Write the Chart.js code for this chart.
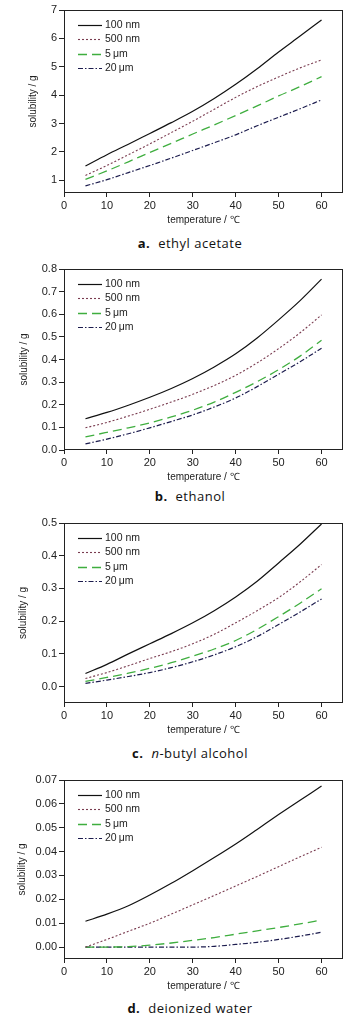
<!DOCTYPE html>
<html><head><meta charset="utf-8">
<script src="https://cdn.jsdelivr.net/npm/chart.js@4.4.1/dist/chart.umd.min.js"></script>
<style>
html,body{margin:0;padding:0;background:#fff;width:352px;height:1018px;overflow:hidden}
.panel{position:absolute;left:0;width:352px}
.cap{position:absolute;left:0;width:380px;text-align:center;font-family:'Open Sans','DejaVu Sans',sans-serif;font-size:13px;color:#111;letter-spacing:0.5px;line-height:16px;white-space:nowrap}
.cap b{font-weight:700;margin-right:4px}
</style></head><body>
<script>
// ---------- data ----------
const temps = [5,10,15,20,25,30,35,40,45,50,55,60];
const sizeLabels = ['100 nm','500 nm','5\u2009\u03bcm','20\u2009\u03bcm'];
const xTicks = [0,10,20,30,40,50,60];

// a. ethyl acetate
const eaNm100 = [1.50,1.90,2.27,2.65,3.03,3.43,3.88,4.38,4.93,5.52,6.08,6.65];
const eaNm500 = [1.17,1.52,1.90,2.28,2.68,3.08,3.50,3.92,4.30,4.64,4.96,5.24];
const eaUm5   = [1.03,1.33,1.65,1.98,2.30,2.63,2.95,3.28,3.62,3.97,4.30,4.65];
const eaUm20  = [0.80,1.02,1.27,1.52,1.78,2.05,2.32,2.60,2.92,3.22,3.52,3.83];
const eaYTicks = [1,2,3,4,5,6,7];
const eaYLabels = ['1','2','3','4','5','6','7'];

// b. ethanol
const etNm100 = [0.138,0.166,0.198,0.233,0.272,0.316,0.367,0.425,0.495,0.575,0.660,0.755];
const etNm500 = [0.098,0.122,0.150,0.180,0.212,0.246,0.285,0.330,0.385,0.448,0.518,0.597];
const etUm5   = [0.058,0.078,0.098,0.120,0.146,0.176,0.212,0.255,0.302,0.355,0.415,0.485];
const etUm20  = [0.027,0.048,0.072,0.098,0.126,0.155,0.190,0.230,0.280,0.335,0.390,0.450];
const etYTicks = [0,0.1,0.2,0.3,0.4,0.5,0.6,0.7,0.8];
const etYLabels = ['0.0','0.1','0.2','0.3','0.4','0.5','0.6','0.7','0.8'];

// c. n-butyl alcohol
const buNm100 = [0.040,0.068,0.100,0.131,0.162,0.195,0.232,0.274,0.322,0.378,0.435,0.497];
const buNm500 = [0.025,0.043,0.064,0.086,0.107,0.131,0.160,0.195,0.232,0.272,0.320,0.373];
const buUm5   = [0.016,0.028,0.041,0.056,0.073,0.093,0.115,0.141,0.175,0.214,0.255,0.299];
const buUm20  = [0.010,0.020,0.031,0.043,0.058,0.076,0.097,0.122,0.153,0.190,0.228,0.268];
const buYTicks = [0,0.1,0.2,0.3,0.4,0.5];
const buYLabels = ['0.0','0.1','0.2','0.3','0.4','0.5'];

// d. deionized water
const wtNm100 = [0.0108,0.0138,0.0173,0.0218,0.0267,0.0320,0.0375,0.0432,0.0493,0.0555,0.0615,0.0675];
const wtNm500 = [0.0000,0.0032,0.0066,0.0100,0.0138,0.0177,0.0216,0.0256,0.0296,0.0337,0.0378,0.0418];
const wtUm5   = [0.0000,0.0000,0.0002,0.0008,0.0017,0.0028,0.0040,0.0054,0.0068,0.0082,0.0097,0.0113];
const wtUm20  = [0.0000,0.0000,0.0000,0.0000,0.0000,0.0000,0.0003,0.0011,0.0020,0.0032,0.0046,0.0062];
const wtYTicks = [0,0.01,0.02,0.03,0.04,0.05,0.06,0.07];
const wtYLabels = ['0.00','0.01','0.02','0.03','0.04','0.05','0.06','0.07'];

// ---------- styling / layout ----------
const F = "'Liberation Sans','Arial',sans-serif";
const styles = [
  {color:'#111111', dash:[], width:1.2},
  {color:'#7a3c50', dash:[2,2], width:1.1},
  {color:'#3fae3f', dash:[9,5], width:1.3},
  {color:'#1c1c4e', dash:[5,2,1.5,2], width:1.2}
];
const panels = [
  {top:0,   plotH:183, yMin:0.55,  yMax:7,    ticks:eaYTicks, labels:eaYLabels, series:[eaNm100,eaNm500,eaUm5,eaUm20], titleX:33, capTop:235, cap:'<b>a.</b> ethyl acetate'},
  {top:259, plotH:181, yMin:0,     yMax:0.8,  ticks:etYTicks, labels:etYLabels, series:[etNm100,etNm500,etUm5,etUm20], titleX:24, capTop:488, cap:'<b>b.</b> ethanol'},
  {top:513, plotH:180, yMin:-0.05, yMax:0.5,  ticks:buYTicks, labels:buYLabels, series:[buNm100,buNm500,buUm5,buUm20], titleX:23, capTop:745, cap:'<b>c.</b> <i>n</i>-butyl alcohol'},
  {top:770, plotH:179, yMin:-0.005,yMax:0.07, ticks:wtYTicks, labels:wtYLabels, series:[wtNm100,wtNm500,wtUm5,wtUm20], titleX:22, capTop:1000, cap:'<b>d.</b> deionized water'}
];

const framePlugin = {
  id:'frame',
  afterDraw(chart){
    const {ctx, chartArea:a} = chart;
    ctx.save();
    ctx.strokeStyle = '#222'; ctx.lineWidth = 1;
    ctx.strokeRect(Math.round(a.left)+0.5, Math.round(a.top)+0.5, Math.round(a.right-a.left)-1, Math.round(a.bottom-a.top)-1);
    ctx.restore();
  }
};
const legendPlugin = {
  id:'insideLegend',
  afterDatasetsDraw(chart){
    const {ctx, chartArea:a} = chart;
    ctx.save();
    chart.data.datasets.forEach((ds,i)=>{
      const y = Math.round(a.top + 15 + i*14.3) + 0.5;
      ctx.strokeStyle = ds.borderColor; ctx.lineWidth = ds.borderWidth;
      ctx.setLineDash(ds.borderDash || []);
      ctx.beginPath(); ctx.moveTo(a.left+14, y); ctx.lineTo(a.left+38, y); ctx.stroke();
      ctx.setLineDash([]);
      ctx.fillStyle = '#222'; ctx.font = '10.5px ' + F; ctx.textBaseline = 'middle'; ctx.textAlign = 'left';
      ctx.fillText(ds.label, a.left+41, y);
    });
    ctx.restore();
  }
};

panels.forEach((p, idx) => {
  const h = 10 + p.plotH + 37;
  const div = document.createElement('div');
  div.className = 'panel'; div.style.top = p.top + 'px'; div.style.height = h + 'px';
  const cv = document.createElement('canvas');
  cv.width = 352; cv.height = h; cv.style.width = '352px'; cv.style.height = h + 'px';
  div.appendChild(cv); document.body.appendChild(div);
  const cap = document.createElement('div');
  cap.className = 'cap'; cap.style.top = p.capTop + 'px'; cap.innerHTML = p.cap;
  document.body.appendChild(cap);

  new Chart(cv, {
    type:'line',
    data:{
      labels: temps,
      datasets: p.series.map((s,i)=>({
        label: sizeLabels[i],
        data: temps.map((t,j)=>({x:t, y:s[j]})),
        borderColor: styles[i].color,
        borderDash: styles[i].dash,
        borderWidth: styles[i].width,
        pointRadius: 0,
        fill: false,
        cubicInterpolationMode: 'monotone'
      }))
    },
    options:{
      responsive:false, animation:false, devicePixelRatio:1,
      layout:{padding:{left:0,right:9,top:10,bottom:0}},
      plugins:{legend:{display:false}, tooltip:{enabled:false}},
      scales:{
        x:{
          type:'linear', min:0, max:65,
          afterBuildTicks: s => { s.ticks = xTicks.map(v=>({value:v})); },
          afterFit: s => { s.height = 37; },
          grid:{display:true, drawOnChartArea:false, drawTicks:true, tickLength:4, color:'#222', lineWidth:1},
          border:{display:false},
          ticks:{font:{family:F,size:11}, color:'#222', padding:2, maxRotation:0, autoSkip:false, callback: v => String(v)},
          title:{display:true, text:'temperature / \u2103', font:{family:F,size:10}, color:'#222', padding:{top:0,bottom:4}}
        },
        y:{
          type:'linear', min:p.yMin, max:p.yMax,
          afterBuildTicks: s => { s.ticks = p.ticks.map(v=>({value:v})); },
          afterFit: s => { s.width = 64; },
          grid:{display:true, drawOnChartArea:false, drawTicks:true, tickLength:5, color:'#222', lineWidth:1},
          border:{display:false},
          ticks:{font:{family:F,size:11}, color:'#222', padding:2, autoSkip:false, callback: (v,i) => p.labels[i]},
          title:{display:true, text:'solubility / g', font:{family:F,size:10}, color:'#222', padding:{top:p.titleX-6,bottom:0}}
        }
      }
    },
    plugins:[framePlugin, legendPlugin]
  });
});
</script>
</body></html>
